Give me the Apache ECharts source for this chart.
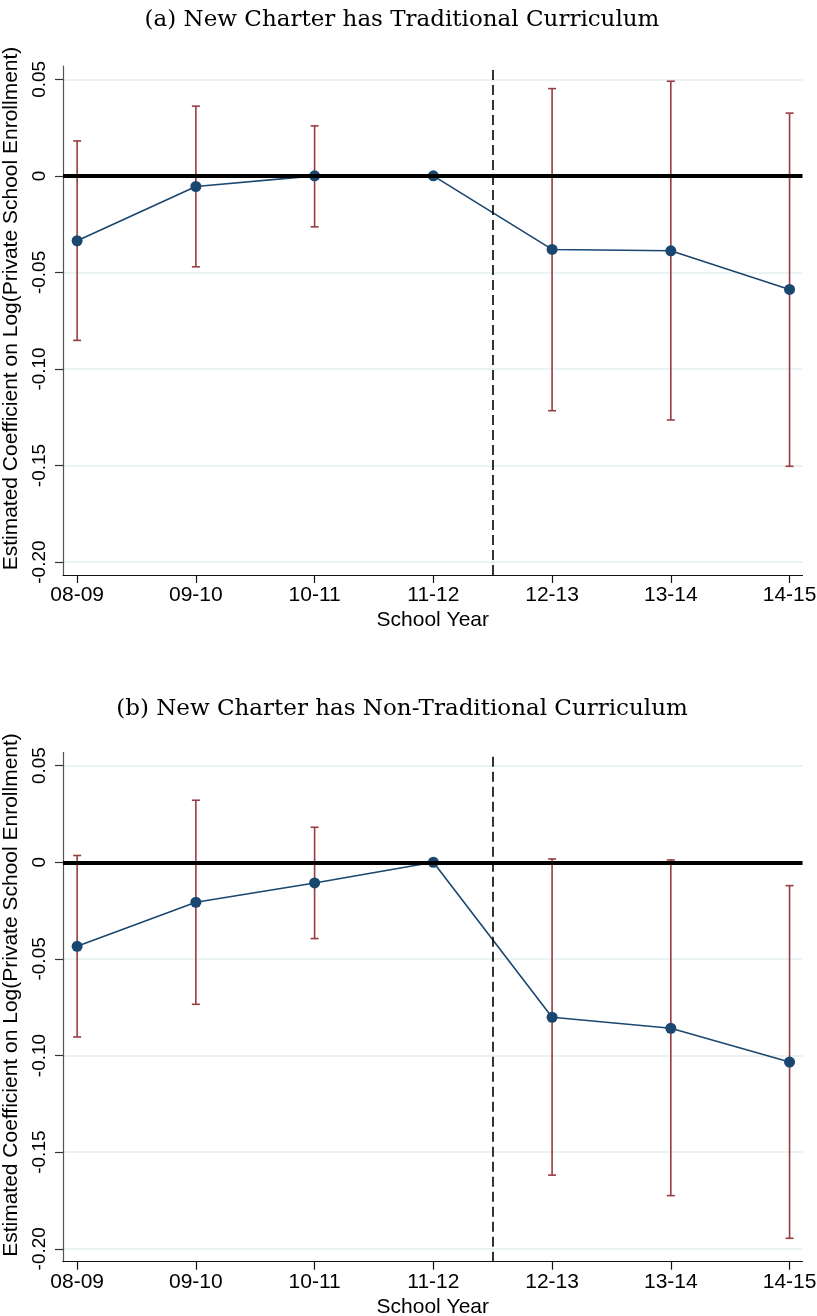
<!DOCTYPE html>
<html>
<head>
<meta charset="utf-8">
<script src="https://cdn.jsdelivr.net/npm/echarts@6/dist/echarts.min.js"></script>
<style>
html,body{margin:0;padding:0;background:#fff;}
#chart{width:817px;height:1316px;}
</style>
</head>
<body>
<div id="chart"></div>
<script>
// ---- data ----
const years = ['08-09','09-10','10-11','11-12','12-13','13-14','14-15'];
const coefA = [-0.0336, -0.0055, 0.0000, 0.0000, -0.0381, -0.0388, -0.0588];
const lowA  = [-0.0852, -0.0471, -0.0264, null, -0.1216, -0.1264, -0.1504];
const highA = [ 0.0181,  0.0361,  0.0259, null,  0.0452,  0.0490,  0.0325];
const coefB = [-0.0435, -0.0207, -0.0107, 0.0000, -0.0802, -0.0859, -0.1034];
const lowB  = [-0.0904, -0.0735, -0.0395, null, -0.1619, -0.1725, -0.1946];
const highB = [ 0.0035,  0.0321,  0.0181, null,  0.0017,  0.0012, -0.0121];
const yTickValues = [-0.20, -0.15, -0.10, -0.05, 0, 0.05];
const yTickLabels = ['-0.20', '-0.15', '-0.10', '-0.05', '0', '0.05'];
const titleA = '(a) New Charter has Traditional Curriculum';
const titleB = '(b) New Charter has Non-Traditional Curriculum';
const yName = 'Estimated Coefficient on Log(Private School Enrollment)';
const xName = 'School Year';
const treatmentBoundary = 3.5;

// ---- styles ----
const NAVY = '#1a476f';
const CRAN = '#973c40';
const SANS = '"Liberation Sans", Arial, sans-serif';
const SERIF = '"DejaVu Serif", "Liberation Serif", serif';
const xIdx = years.map((_, i) => i);

function ciData(lo, hi) {
  const out = [];
  for (let i = 0; i < years.length; i++) {
    if (lo[i] != null && hi[i] != null) out.push([i, lo[i], hi[i]]);
  }
  return out;
}
function renderCI(params, api) {
  const x = api.value(0);
  const p1 = api.coord([x, api.value(2)]);
  const p2 = api.coord([x, api.value(1)]);
  const hw = 4;
  const st = { stroke: CRAN, lineWidth: 1.6 };
  return {
    type: 'group',
    children: [
      { type: 'line', shape: { x1: p1[0], y1: p1[1], x2: p2[0], y2: p2[1] }, style: st },
      { type: 'line', shape: { x1: p1[0] - hw, y1: p1[1], x2: p1[0] + hw, y2: p1[1] }, style: st },
      { type: 'line', shape: { x1: p2[0] - hw, y1: p2[1], x2: p2[0] + hw, y2: p2[1] }, style: st }
    ]
  };
}
function xAxisDef(g) {
  return {
    gridIndex: g, type: 'value', min: -0.119, max: 6.109,
    axisLine: { show: true, onZero: false, lineStyle: { color: '#111', width: 1.2 } },
    axisTick: { show: true, length: 8, customValues: xIdx, lineStyle: { color: '#111', width: 1.2 } },
    axisLabel: { customValues: xIdx, formatter: v => years[Math.round(v)], fontSize: 21, fontFamily: SANS, color: '#000', margin: 10 },
    splitLine: { show: false },
    name: xName, nameLocation: 'middle', nameGap: 35,
    nameTextStyle: { fontSize: 21, fontFamily: SANS, color: '#000' }
  };
}
function yAxisDef(g) {
  return {
    gridIndex: g, type: 'value', min: -0.2067, max: 0.0569,
    axisLine: { show: true, onZero: false, lineStyle: { color: '#555', width: 1.2 } },
    axisTick: { show: true, length: 8, customValues: yTickValues, lineStyle: { color: '#333', width: 1.2 } },
    axisLabel: {
      customValues: yTickValues, rotate: 90, margin: 14,
      formatter: v => { const k = yTickValues.findIndex(t => Math.abs(t - v) < 1e-9); return k >= 0 ? yTickLabels[k] : ''; },
      fontSize: 19, fontFamily: SANS, color: '#000'
    },
    splitLine: { show: true, lineStyle: { color: '#e4eef1', width: 1.5 } },
    name: yName, nameLocation: 'middle', nameGap: 41, nameRotate: 90,
    nameTextStyle: { fontSize: 21, fontFamily: SANS, color: '#000', padding: [0, 0, 0, 24] }
  };
}
function panelSeries(g, coef, lo, hi) {
  return [
    {
      type: 'line', xAxisIndex: g, yAxisIndex: g, data: [], z: 1, silent: true,
      markLine: {
        silent: true, symbol: 'none', animation: false, label: { show: false },
        data: [
          { yAxis: 0, lineStyle: { color: '#000', width: 4, type: 'solid' } },
          { xAxis: treatmentBoundary, lineStyle: { color: '#000', width: 1.6, type: [10, 5] } }
        ]
      }
    },
    {
      type: 'custom', xAxisIndex: g, yAxisIndex: g, z: 2, silent: true,
      data: ciData(lo, hi), renderItem: renderCI, encode: { x: 0, y: [1, 2] }
    },
    {
      type: 'line', xAxisIndex: g, yAxisIndex: g, z: 3, silent: true,
      data: coef.map((v, i) => [i, v]),
      symbol: 'circle', symbolSize: 11, showSymbol: true,
      itemStyle: { color: NAVY }, lineStyle: { color: NAVY, width: 1.6 }
    }
  ];
}

const chart = echarts.init(document.getElementById('chart'), null, { renderer: 'canvas' });
chart.setOption({
  animation: false,
  backgroundColor: '#fff',
  title: [
    { text: titleA, left: 402, textAlign: 'center', top: 9, padding: 0, textStyle: { fontSize: 23, fontWeight: 'normal', fontFamily: SERIF, color: '#000' } },
    { text: titleB, left: 402, textAlign: 'center', top: 698, padding: 0, textStyle: { fontSize: 23, fontWeight: 'normal', fontFamily: SERIF, color: '#000' } }
  ],
  grid: [
    { left: 63, right: 14.5, top: 66, height: 509, outerBoundsMode: 'none' },
    { left: 63, right: 14.5, top: 752.3, height: 509.4, outerBoundsMode: 'none' }
  ],
  xAxis: [xAxisDef(0), xAxisDef(1)],
  yAxis: [yAxisDef(0), yAxisDef(1)],
  series: [].concat(panelSeries(0, coefA, lowA, highA), panelSeries(1, coefB, lowB, highB))
});
</script>
</body>
</html>
